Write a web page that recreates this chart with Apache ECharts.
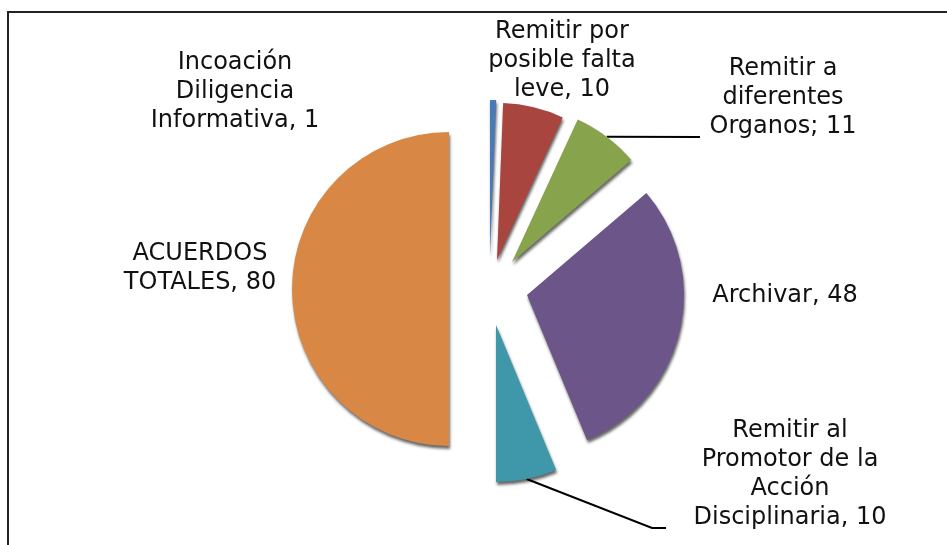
<!DOCTYPE html>
<html lang="es">
<head>
    <meta charset="UTF-8">
    <title>Acuerdos</title>
    <script type="text/javascript" src="https://cdn.jsdelivr.net/npm/echarts@6/dist/echarts.min.js"></script>
    <style>
        html, body { margin: 0; padding: 0; background: #fff; }
        #container { width: 947px; height: 545px; }
    </style>
</head>
<body>
<div id="container"></div>
<script type="text/javascript">
    // datos
    var names = ['Incoación\nDiligencia\nInformativa', 'Remitir por\nposible falta\nleve', 'Remitir a\ndiferentes\nOrganos',
        'Archivar', 'Remitir al\nPromotor de la\nAcción\nDisciplinaria', 'ACUERDOS\nTOTALES'];
    var values = [1, 10, 11, 48, 10, 80];
    var separators = [', ', ', ', '; ', ', ', ', ', ', '];

    // estilo / posicion de cada porcion (separada)
    var colors = ['#4a7ab5', '#a8453f', '#87a34b', '#6c5689', '#3f97aa', '#d98744'];
    var centers = [[490, 257], [497, 260], [512, 262], [527, 295], [496, 325], [449, 289]];
    var labelPos = [[235, 92], [562, 61], [783, 98], [785, 296], [790, 474], [200, 268]];
    // puntos de las lineas guia (despues del ancla en la porcion)
    var leaderPts = [null, null, [[700, 137]], null, [[652, 528], [666, 528]], null];

    var dom = document.getElementById("container");
    var myChart = echarts.init(dom);

    var series = [];
    for (var s = 0; s < values.length; s++) {
        var data = [];
        for (var i = 0; i < values.length; i++) {
            var on = (i === s);
            data.push({
                name: names[i],
                value: values[i],
                itemStyle: on ? {
                    color: colors[i],
                    shadowColor: 'rgba(0,0,0,0.6)',
                    shadowBlur: 3,
                    shadowOffsetX: 1,
                    shadowOffsetY: 3
                } : {color: 'rgba(0,0,0,0)', shadowColor: 'rgba(0,0,0,0)', shadowBlur: 0},
                label: {show: on},
                labelLine: {show: on && !!leaderPts[i]}
            });
        }
        series.push({
            type: 'pie',
            center: centers[s],
            radius: 157,
            startAngle: 90,
            clockwise: true,
            avoidLabelOverlap: false,
            animation: false,
            silent: true,
            label: {
                position: 'outside',
                color: '#111',
                fontFamily: 'DejaVu Sans',
                fontSize: 24,
                lineHeight: 29,
                align: 'center',
                formatter: function (p) {
                    return p.name + separators[p.dataIndex] + p.value;
                }
            },
            labelLine: {
                length: 10,
                length2: 12,
                lineStyle: {color: '#000', width: 2}
            },
            labelLayout: function (p) {
                var pos = labelPos[p.dataIndex];
                var res = {x: pos[0], y: pos[1], align: 'center', verticalAlign: 'middle'};
                var extra = leaderPts[p.dataIndex];
                if (extra && p.labelLinePoints) {
                    res.labelLinePoints = [p.labelLinePoints[0]].concat(extra);
                }
                return res;
            },
            data: data
        });
    }

    var option = {
        backgroundColor: '#fff',
        graphic: [{
            type: 'rect',
            shape: {x: 8, y: 12, width: 980, height: 580},
            style: {fill: 'none', stroke: '#222', lineWidth: 2},
            z: -1
        }],
        series: series
    };

    if (option && typeof option === "object") {
        myChart.setOption(option, true);
    }
</script>
</body>
</html>
